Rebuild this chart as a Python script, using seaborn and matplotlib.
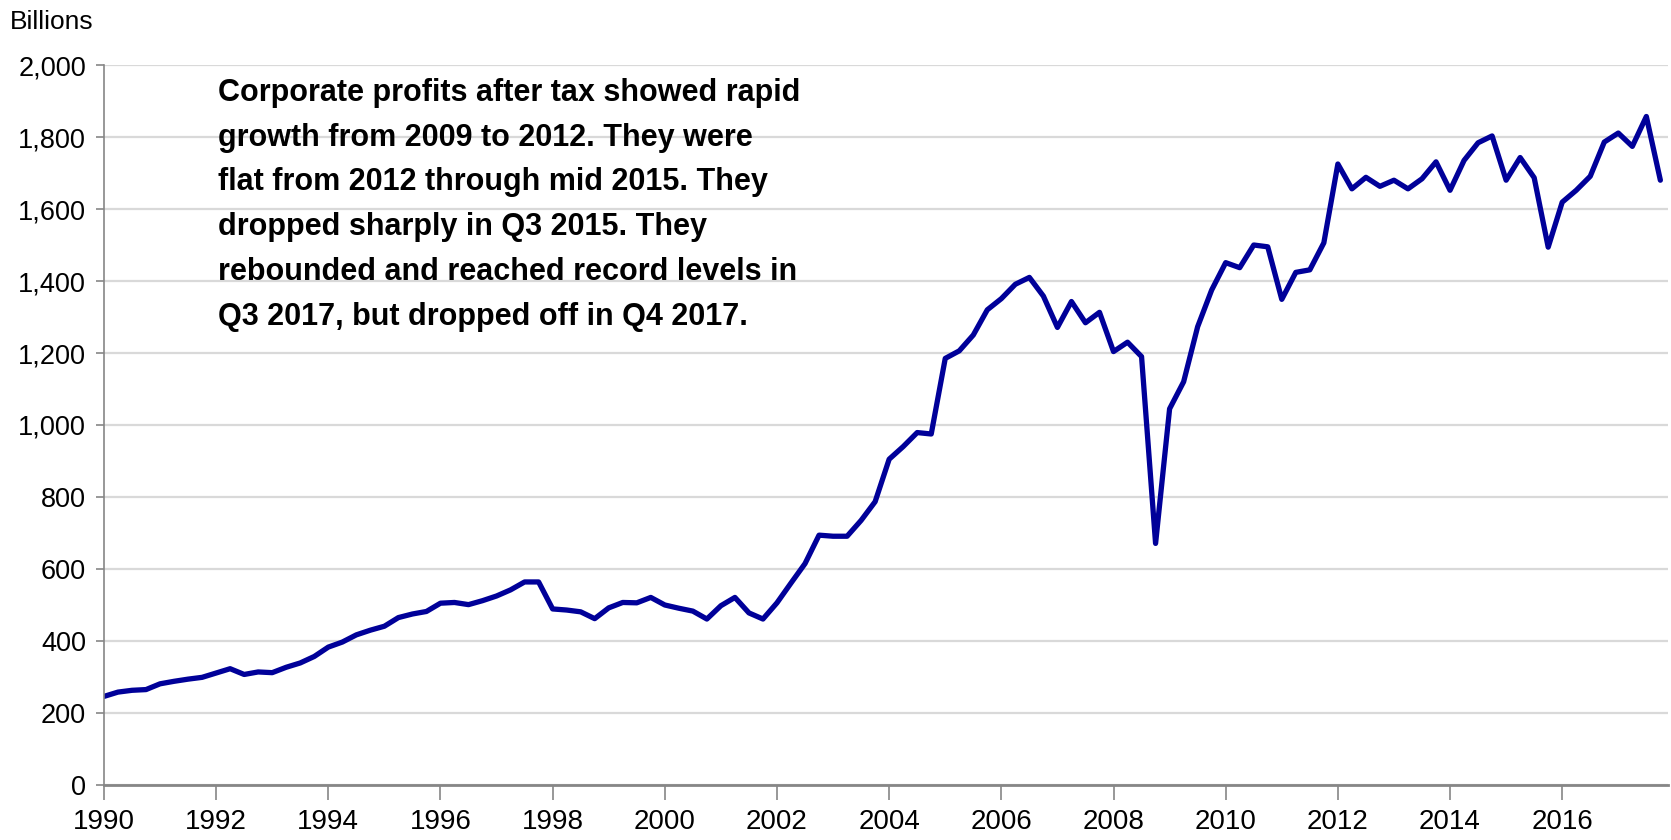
import numpy as np
import pandas as pd
import matplotlib.pyplot as plt
import seaborn as sns
from matplotlib.ticker import FuncFormatter

# ---------------- THEME & COLORS ----------------
sns.set_theme(style="white")
plt.rcParams["font.family"] = ["Liberation Sans", "DejaVu Sans"]
plt.rcParams["text.color"] = "black"
plt.rcParams["xtick.color"] = "black"
plt.rcParams["ytick.color"] = "black"

LINE_BLUE = "#000099"
GRID_GRAY = "#D9D9D9"
AXIS_GRAY = "#868686"

# ---------------- DATA ----------------
# quarterly corporate profits after tax, billions, 1990 Q1 .. 2017 Q4
profits_1990s = [
    246, 258, 263, 265, 281, 288, 294, 299, 311, 323,
    307, 314, 312, 327, 339, 357, 383, 397, 417, 430,
    441, 465, 475, 482, 505, 507, 501, 512, 525, 542,
    564, 564, 489, 486, 481, 462, 492, 507, 506, 521,
]
profits_2000s = [
    500, 491, 483, 461, 498, 521, 478, 461, 506, 561,
    615, 694, 691, 691, 735, 787, 905, 940, 979, 975,
    1185, 1206, 1250, 1320, 1351, 1391, 1410, 1358, 1271, 1343,
    1284, 1313, 1204, 1230, 1190, 671, 1045, 1120, 1273, 1375,
]
profits_2010s = [
    1451, 1437, 1500, 1495, 1349, 1424, 1431, 1506, 1725, 1656,
    1688, 1663, 1680, 1656, 1684, 1731, 1652, 1735, 1784, 1803,
    1680, 1743, 1687, 1494, 1619, 1652, 1691, 1786, 1811, 1774,
    1857, 1680,
]
profits = profits_1990s + profits_2000s + profits_2010s

quarters = pd.period_range("1990Q1", "2017Q4", freq="Q")
df = pd.DataFrame({
    "year": quarters.year + (quarters.quarter - 1) / 4,
    "profits": profits,
})

year_ticks = list(range(1990, 2017, 2))
value_ticks = list(range(0, 2001, 200))

note = ("Corporate profits after tax showed rapid\n"
        "growth from 2009 to 2012. They were\n"
        "flat from 2012 through mid 2015. They\n"
        "dropped sharply in Q3 2015. They\n"
        "rebounded and reached record levels in\n"
        "Q3 2017, but dropped off in Q4 2017.")

# ---------------- PLOT ----------------
fig = plt.figure(figsize=(16.71, 8.40), dpi=100)
ax = fig.add_axes([0.0622, 0.0655, 0.9358, 0.8571])

sns.lineplot(data=df, x="year", y="profits", color=LINE_BLUE,
             linewidth=3.8, ax=ax)

ax.set_xlim(1990, 2017.88)
ax.set_ylim(0, 2000)
ax.set_xticks(year_ticks)
ax.set_yticks(value_ticks)
ax.yaxis.set_major_formatter(FuncFormatter(lambda v, p: f"{int(v):,}"))
ax.set_xlabel("")
ax.set_ylabel("")

ax.grid(axis="y", color=GRID_GRAY, linewidth=1.6)
ax.set_axisbelow(True)
for side in ["top", "right"]:
    ax.spines[side].set_visible(False)
ax.spines["left"].set_color(AXIS_GRAY)
ax.spines["left"].set_linewidth(1.2)
ax.spines["bottom"].set_color(AXIS_GRAY)
ax.spines["bottom"].set_linewidth(2.0)

ax.tick_params(axis="x", direction="out", length=11, width=1.2,
               color=AXIS_GRAY, labelcolor="black", labelsize=20,
               pad=6, bottom=True)
ax.tick_params(axis="y", direction="out", length=6, width=1.2,
               color=AXIS_GRAY, labelcolor="black", labelsize=19.5,
               pad=7, left=True)

fig.text(0.006, 0.988, "Billions", fontsize=19, va="top", ha="left",
         color="black")
ax.text(0.073, 0.982, note, transform=ax.transAxes, fontsize=22,
        fontweight="bold", va="top", ha="left", linespacing=1.64,
        color="black")

plt.savefig("out.png", dpi=100)
